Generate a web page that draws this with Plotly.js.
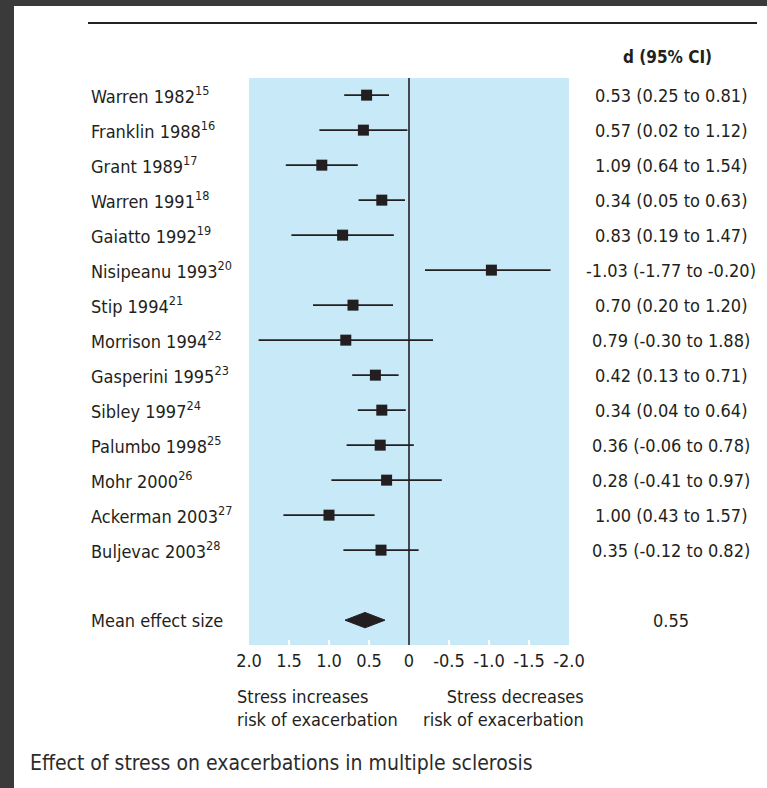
<!DOCTYPE html>
<html>
<head>
<meta charset="utf-8">
<script src="https://cdn.plot.ly/plotly-3.0.1.min.js"></script>
<style>html,body{margin:0;padding:0;background:#fff;}#chart{width:767px;height:788px;}
#chart text{font-stretch:condensed !important;}</style>
</head>
<body>
<div id="chart"></div>
<script>
const studies = ['Warren 1982','Franklin 1988','Grant 1989','Warren 1991','Gaiatto 1992','Nisipeanu 1993','Stip 1994','Morrison 1994','Gasperini 1995','Sibley 1997','Palumbo 1998','Mohr 2000','Ackerman 2003','Buljevac 2003'];
const refs = ['15','16','17','18','19','20','21','22','23','24','25','26','27','28'];
const dVals = [0.53,0.57,1.09,0.34,0.83,-1.03,0.70,0.79,0.42,0.34,0.36,0.28,1.00,0.35];
const ciLow = [0.25,0.02,0.64,0.05,0.19,-1.77,0.20,-0.30,0.13,0.04,-0.06,-0.41,0.43,-0.12];
const ciHigh = [0.81,1.12,1.54,0.63,1.47,-0.20,1.20,1.88,0.71,0.64,0.78,0.97,1.57,0.82];
const meanLabel = 'Mean effect size';
const meanValue = 0.55;
const meanLow = 0.30;   // diamond extent
const meanHigh = 0.80;
const tickVals = [2.0,1.5,1.0,0.5,0,-0.5,-1.0,-1.5,-2.0];
const tickText = ['2.0','1.5','1.0','0.5','0','-0.5','-1.0','-1.5','-2.0'];
const headerText = 'd (95% CI)';
const leftNote = 'Stress increases<br>risk of exacerbation';
const rightNote = 'Stress decreases<br>risk of exacerbation';
const caption = 'Effect of stress on exacerbations in multiple sclerosis';

const W = 767, H = 788;
const FONT = '"DejaVu Sans Condensed", "Liberation Sans Narrow", "DejaVu Sans", sans-serif';
const INK = '#231f20';
const px = x => x / W;
const py = y => (H - y) / H;

const rows = studies.map((s, i) => i);
const meanRow = studies.length + 1;

const traces = [{
  type: 'scatter', mode: 'markers',
  x: dVals, y: rows,
  marker: {symbol: 'square', size: 11, color: INK},
  error_x: {type: 'data', symmetric: false,
    array: dVals.map((v, i) => ciHigh[i] - v),
    arrayminus: dVals.map((v, i) => v - ciLow[i]),
    width: 0, thickness: 1.8, color: INK},
  hoverinfo: 'skip', showlegend: false
}, {
  type: 'scatter', mode: 'lines', fill: 'toself', fillcolor: INK,
  x: [meanHigh, meanValue, meanLow, meanValue, meanHigh],
  y: [meanRow, meanRow - 0.22, meanRow, meanRow + 0.22, meanRow],
  line: {color: INK, width: 1}, hoverinfo: 'skip', showlegend: false
}];

const annotations = [];
studies.forEach((s, i) => {
  annotations.push({xref: 'paper', yref: 'y', x: px(89), y: i, xanchor: 'left', yanchor: 'middle',
    text: s + '<sup>' + refs[i] + '</sup>', showarrow: false, font: {family: FONT, size: 18, color: INK}});
  annotations.push({xref: 'paper', yref: 'y', x: px(671), y: i, xanchor: 'center', yanchor: 'middle',
    text: dVals[i].toFixed(2) + ' (' + ciLow[i].toFixed(2) + ' to ' + ciHigh[i].toFixed(2) + ')',
    showarrow: false, font: {family: FONT, size: 18, color: INK}});
});
annotations.push({xref: 'paper', yref: 'y', x: px(89), y: meanRow, xanchor: 'left', yanchor: 'middle',
  text: meanLabel, showarrow: false, font: {family: FONT, size: 18, color: INK}});
annotations.push({xref: 'paper', yref: 'y', x: px(671), y: meanRow, xanchor: 'center', yanchor: 'middle',
  text: meanValue.toFixed(2), showarrow: false, font: {family: FONT, size: 18, color: INK}});
annotations.push({xref: 'paper', yref: 'paper', x: px(667), y: py(57), xanchor: 'center', yanchor: 'middle',
  text: '<b>' + headerText + '</b>', showarrow: false, font: {family: FONT, size: 17, color: INK}});
annotations.push({xref: 'paper', yref: 'paper', x: px(235), y: py(708), xanchor: 'left', yanchor: 'middle',
  text: leftNote, align: 'left', showarrow: false, font: {family: FONT, size: 18, color: INK}});
annotations.push({xref: 'paper', yref: 'paper', x: px(586), y: py(708), xanchor: 'right', yanchor: 'middle',
  text: rightNote, align: 'right', showarrow: false, font: {family: FONT, size: 18, color: INK}});
annotations.push({xref: 'paper', yref: 'paper', x: px(28), y: py(763), xanchor: 'left', yanchor: 'middle',
  text: caption, showarrow: false, font: {family: FONT, size: 21, color: '#2b2b2b'}});

const shapes = [
  {type: 'rect', xref: 'paper', yref: 'paper', x0: 0, x1: 1, y0: py(6), y1: 1, fillcolor: '#3a3a3a', line: {width: 0}},
  {type: 'rect', xref: 'paper', yref: 'paper', x0: 0, x1: px(14), y0: 0, y1: 1, fillcolor: '#3a3a3a', line: {width: 0}},
  {type: 'line', xref: 'paper', yref: 'paper', x0: px(88), x1: px(757), y0: py(23), y1: py(23), line: {color: '#222', width: 2}},
  {type: 'line', xref: 'x', yref: 'paper', x0: 0, x1: 0, y0: py(645), y1: py(78), line: {color: INK, width: 1.6}, layer: 'above'}
];

const layout = {
  width: W, height: H,
  margin: {l: 0, r: 0, t: 0, b: 0},
  paper_bgcolor: '#ffffff', plot_bgcolor: '#c8eaf8',
  showlegend: false,
  xaxis: {domain: [px(249), px(569)], range: [2.0, -2.0], tickvals: tickVals, ticktext: tickText,
    ticks: 'inside', ticklen: 5, tickwidth: 1.5, tickcolor: '#ffffff', showgrid: false, zeroline: false,
    showline: false, ticklabelstandoff: 3, tickfont: {family: FONT, size: 18, color: INK}, fixedrange: true},
  yaxis: {domain: [py(645), py(78)], range: [meanRow + 0.71, -0.49], showticklabels: false,
    ticks: '', showgrid: false, zeroline: false, showline: false, fixedrange: true},
  annotations: annotations,
  shapes: shapes
};

Plotly.newPlot('chart', traces, layout, {displayModeBar: false, staticPlot: true});
</script>
</body>
</html>
